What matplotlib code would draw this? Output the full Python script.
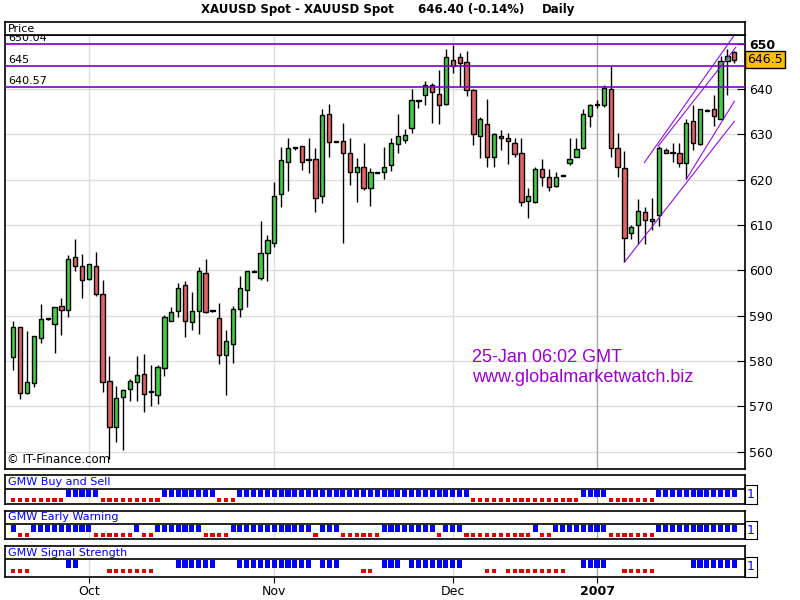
import numpy as np
import matplotlib
matplotlib.use("Agg")
import matplotlib.pyplot as plt

# daily XAUUSD bars, Sep 2006 - 25 Jan 2007
opens = [580.8, 587.4, 573.0, 575.1, 585.0, 589.2, 588.1, 592.1, 591.2, 602.9,
         600.9, 598.0, 600.9, 594.7, 575.5, 565.4, 572.0, 573.7, 575.4, 577.1,
         573.1, 572.5, 578.5, 588.7, 591.1, 596.7, 588.5, 591.1, 599.3, 591.0,
         589.4, 581.2, 583.8, 591.4, 595.6, 599.7, 598.2, 603.8, 606.0, 616.9,
         623.8, 627.0, 627.4, 624.3, 624.5, 616.3, 634.6, 628.4, 628.5, 626.0,
         621.6, 622.9, 618.2, 621.5, 621.6, 623.2, 627.8, 628.7, 631.5, 637.4,
         638.8, 641.0, 639.0, 636.6, 646.5, 647.0, 645.9, 639.9, 629.6, 632.2,
         624.9, 629.6, 629.1, 628.0, 625.8, 615.4, 615.0, 622.3, 620.5, 618.5,
         620.8, 623.6, 624.9, 626.9, 634.0, 636.4, 636.4, 640.0, 627.1, 622.5,
         608.2, 610.1, 612.8, 610.8, 612.1, 626.5, 625.9, 626.0, 623.6, 632.9,
         627.8, 635.2, 635.5, 633.5, 646.1, 648.1]
highs = [588.8, 587.5, 586.6, 585.6, 592.6, 589.5, 591.8, 593.9, 603.4, 606.9,
         603.6, 601.4, 604.0, 597.9, 581.1, 574.5, 573.8, 576.0, 581.1, 581.5,
         579.1, 579.0, 590.1, 591.8, 597.2, 597.6, 595.2, 600.7, 602.5, 591.2,
         592.8, 586.8, 592.1, 598.7, 599.9, 600.0, 610.9, 607.8, 619.5, 627.2,
         629.1, 627.3, 627.5, 629.2, 626.9, 635.6, 636.6, 628.6, 632.6, 629.2,
         624.7, 628.2, 622.5, 621.7, 627.2, 629.2, 634.4, 631.3, 640.0, 637.6,
         641.8, 641.3, 644.3, 648.8, 649.7, 647.9, 648.5, 640.1, 633.8, 637.9,
         630.4, 630.9, 630.2, 629.1, 629.1, 618.1, 622.9, 624.5, 622.3, 621.8,
         621.0, 629.3, 629.1, 635.5, 636.6, 637.7, 641.0, 645.0, 630.4, 626.3,
         610.1, 615.7, 613.9, 615.9, 627.4, 627.1, 628.0, 628.2, 633.5, 636.4,
         635.6, 635.5, 638.6, 647.4, 648.8, 648.5]
lows = [577.9, 571.7, 572.6, 574.3, 584.0, 589.1, 581.8, 585.7, 589.6, 599.9,
        593.8, 597.9, 594.3, 573.2, 558.3, 562.0, 560.4, 571.2, 571.2, 568.8,
        570.1, 570.5, 576.7, 588.7, 589.7, 585.3, 586.8, 586.0, 590.6, 590.9,
        579.3, 572.5, 579.6, 589.7, 591.8, 599.6, 597.9, 597.7, 605.2, 614.0,
        617.4, 626.6, 622.1, 621.5, 612.9, 614.9, 624.9, 628.3, 606.1, 618.9,
        615.1, 617.8, 614.3, 621.4, 620.2, 622.0, 626.0, 628.2, 630.4, 635.9,
        636.5, 632.6, 632.4, 636.4, 643.5, 640.4, 638.5, 627.6, 624.7, 622.9,
        622.9, 626.5, 623.4, 624.9, 614.3, 611.5, 614.9, 618.5, 617.6, 618.3,
        620.8, 623.2, 624.9, 626.7, 631.7, 635.9, 636.0, 624.9, 620.7, 601.8,
        606.8, 605.7, 605.7, 608.8, 609.7, 626.0, 624.0, 622.7, 620.1, 626.5,
        627.7, 635.1, 631.8, 633.4, 638.8, 645.7]
closes = [587.4, 572.9, 575.3, 585.4, 589.2, 589.4, 591.8, 591.2, 602.6, 600.9,
          597.8, 601.3, 594.7, 575.3, 565.5, 571.8, 573.5, 575.5, 576.9, 572.6,
          573.3, 578.7, 589.6, 590.9, 596.2, 588.9, 591.1, 599.8, 590.8, 591.1,
          581.2, 584.3, 591.4, 596.2, 599.8, 599.9, 603.8, 606.6, 616.3, 624.3,
          626.9, 627.2, 624.0, 624.5, 616.0, 634.2, 628.4, 628.5, 625.8, 621.6,
          622.9, 618.2, 621.6, 621.6, 622.7, 628.2, 629.6, 629.8, 637.7, 637.5,
          641.0, 639.3, 636.4, 647.0, 645.2, 645.7, 639.9, 630.0, 633.3, 624.9,
          630.0, 629.1, 628.5, 625.6, 615.0, 616.3, 622.3, 620.7, 618.3, 620.7,
          620.9, 624.5, 626.7, 634.6, 636.4, 636.6, 640.2, 627.1, 622.9, 607.1,
          609.5, 613.0, 611.0, 611.3, 626.9, 626.0, 626.1, 623.6, 632.6, 628.0,
          635.5, 635.4, 634.0, 646.3, 647.4, 646.5]

month_labels = ["Oct", "Nov", "Dec", "2007"]
month_idx = [11, 38, 64, 85]

levels = [650.04, 645, 640.57]
level_labels = ["650.04", "645", "640.57"]

# trend channel lines: start bar, start price, end bar, end price
chan_x0 = [89.0, 91.9, 93.9, 98.0]
chan_p0 = [601.8, 623.8, 627.4, 620.1]
chan_x1 = [105.0, 104.9, 105.2, 105.0]
chan_p1 = [632.9, 651.7, 649.2, 637.3]

# indicator signals as runs: B = blue (up), R = red (down), - = none
buy_sell_runs = [("R", 8), ("B", 5), ("R", 9), ("B", 8), ("R", 3), ("B", 34),
                 ("R", 16), ("B", 4), ("R", 7), ("B", 12)]
early_warn_runs = [("B", 1), ("R", 2), ("B", 9), ("R", 6), ("B", 1), ("R", 2),
                   ("B", 7), ("R", 4), ("B", 12), ("R", 1), ("B", 3), ("R", 6),
                   ("B", 8), ("R", 1), ("B", 3), ("R", 10), ("B", 1), ("R", 2),
                   ("B", 8), ("R", 7), ("B", 12)]
strength_runs = [("R", 3), ("-", 5), ("B", 2), ("-", 4), ("R", 7), ("-", 3),
                 ("B", 6), ("-", 3), ("B", 11), ("-", 1), ("B", 3), ("-", 3),
                 ("R", 2), ("-", 1), ("B", 3), ("-", 1), ("B", 8), ("-", 3),
                 ("R", 2), ("-", 1), ("R", 9), ("-", 2), ("B", 4), ("-", 2),
                 ("R", 5), ("-", 5), ("B", 7)]

W, H = 800, 600
fig = plt.figure(figsize=(8, 6), dpi=100)
fig.patch.set_facecolor("white")


def px_axes(x0, y0, x1, y1):
    return fig.add_axes([x0 / W, 1 - y1 / H, (x1 - x0) / W, (y1 - y0) / H])


XLO, XHI = -1.21, 106.55
GRID = "#dddddd"
PURPLE = "#8000c8"

o = np.array(opens)
h = np.array(highs)
l = np.array(lows)
c = np.array(closes)
idx = np.arange(len(o))

# ---- main price panel (below the "Price" header strip)
ax = px_axes(5, 35, 745, 469)
ax.set_xlim(XLO, XHI)
ax.set_ylim(556.14, 651.94)
for s in ax.spines.values():
    s.set_linewidth(1.2)

price_ticks = np.arange(560, 651, 10)
for p in price_ticks:
    ax.axhline(p, color=GRID, lw=1, zorder=0)
for m, lab in zip(month_idx, month_labels):
    col = "#a8a8a8" if lab == "2007" else GRID
    ax.axvline(m, color=col, lw=1, zorder=0)

up = c >= o
ax.vlines(idx, l, h, color="black", lw=1, zorder=3)
body_lo = np.minimum(o, c)
body_h = np.maximum(np.abs(c - o), 0.25)
colors = np.where(up, "#44cc44", "#e06464")
ax.bar(idx, body_h, bottom=body_lo, width=0.62, color=colors,
       edgecolor="black", linewidth=1, zorder=4)

for lv, lab in zip(levels, level_labels):
    ax.axhline(lv, color=PURPLE, lw=1.2, zorder=5)
    t = ax.annotate(lab, xy=(0, lv), xycoords=ax.get_yaxis_transform(),
                    xytext=(3, 1), textcoords="offset pixels", fontsize=8,
                    va="bottom", ha="left")
    t.set_clip_on(True)

for x0, p0, x1, p1 in zip(chan_x0, chan_p0, chan_x1, chan_p1):
    ax.plot([x0, x1], [p0, p1], color="#9010e0", lw=0.8, zorder=6)

ax.set_xticks([])
ax.yaxis.tick_right()
ax.set_yticks(price_ticks)
ax.set_yticklabels([str(p) for p in price_ticks])
ax.tick_params(axis="y", direction="in", length=6, pad=3, labelsize=9,
               right=True, left=False)
ax.get_yticklabels()[-1].set_fontweight("bold")

ax.text(1.003, c[-1], "%.1f" % c[-1], transform=ax.get_yaxis_transform(),
        fontsize=9, va="center", ha="left",
        bbox=dict(boxstyle="square,pad=0.15", fc="#ffc000", ec="black", lw=1))

ax.text(0.003, 0.006, "\u00a9 IT-Finance.com", transform=ax.transAxes,
        fontsize=8.5, va="bottom", ha="left")

fig.text(472 / W, 1 - 357 / H, "25-Jan 06:02 GMT", color="#9900cc",
         fontsize=13, family="Liberation Sans", va="center", ha="left")
fig.text(472 / W, 1 - 378 / H, "www.globalmarketwatch.biz", color="#9900cc",
         fontsize=13, family="Liberation Sans", va="center", ha="left")

# header strip
hdr = px_axes(5, 22, 745, 35)
hdr.set_facecolor("white")
hdr.set_xticks([])
hdr.set_yticks([])
for s in hdr.spines.values():
    s.set_linewidth(1.2)
hdr.text(0.004, 0.45, "Price", fontsize=8, va="center", ha="left",
         transform=hdr.transAxes)

fig.text(394 / W, 1 - 10 / H, "XAUUSD Spot - XAUUSD Spot", fontsize=8.5,
         fontweight="bold", va="center", ha="right")
fig.text(418 / W, 1 - 10 / H, "646.40 (-0.14%)", fontsize=8.5,
         fontweight="bold", va="center", ha="left")
fig.text(542 / W, 1 - 10 / H, "Daily", fontsize=8.5,
         fontweight="bold", va="center", ha="left")

# ---- indicator panels
panels = [("GMW Buy and Sell", buy_sell_runs, 475, 489, 504, 485, 7, 4),
          ("GMW Early Warning", early_warn_runs, 511, 524, 539, 521, 7, 4),
          ("GMW Signal Strength", strength_runs, 546, 559, 577, 557, 8, 4)]

for title, runs, top, mid, bot, box_top, bh, rh in panels:
    sig = "".join(k * n for k, n in runs)
    pax = px_axes(5, top, 745, bot)
    pax.set_xlim(XLO, XHI)
    pax.set_ylim(bot, top)
    for s in pax.spines.values():
        s.set_linewidth(1.2)
    pax.axhline(mid, color="black", lw=1.2)
    for m, lab in zip(month_idx, month_labels):
        col = "#a8a8a8" if lab == "2007" else GRID
        pax.vlines(m, mid, bot, color=col, lw=1, zorder=0)
    blue = [i for i, k in enumerate(sig) if k == "B"]
    red = [i for i, k in enumerate(sig) if k == "R"]
    pax.bar(blue, bh, bottom=mid + 1, width=0.74, color="#0000ff", zorder=2)
    pax.bar(red, rh, bottom=mid + bh + 2, width=0.6, color="#dd0000", zorder=2)
    pax.text(0.004, (top + mid) / 2, title, color="#0000ff", fontsize=8,
             va="center", ha="left", transform=pax.get_yaxis_transform())
    pax.set_yticks([])
    pax.set_xticks([])
    bax = px_axes(745, box_top, 757, bot)
    bax.set_xticks([])
    bax.set_yticks([])
    bax.text(0.5, 0.5, "1", color="#0000ff", fontsize=9, ha="center",
             va="center", transform=bax.transAxes)
    last = pax

last.set_xticks(month_idx)
last.set_xticklabels(month_labels)
last.tick_params(axis="x", direction="out", length=4, pad=2, labelsize=9)
last.get_xticklabels()[-1].set_fontweight("bold")

fig.savefig("out.png", dpi=100)
